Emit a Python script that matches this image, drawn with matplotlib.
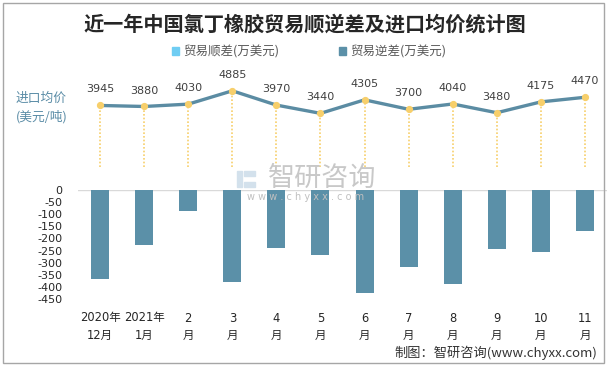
import matplotlib.pyplot as plt
from matplotlib.patches import Rectangle, Patch

plt.rcParams['font.family'] = ['DejaVu Sans', 'Noto Sans CJK SC']
cjk = ['Noto Sans CJK SC', 'DejaVu Sans']

# data
months = ['2020年\n12月', '2021年\n1月', '2\n月', '3\n月', '4\n月', '5\n月',
          '6\n月', '7\n月', '8\n月', '9\n月', '10\n月', '11\n月']
deficit = [-368, -227, -87, -380, -240, -269, -426, -318, -388, -244, -256, -169]
price = [3945, 3880, 4030, 4885, 3970, 3440, 4305, 3700, 4040, 3480, 4175, 4470]
yticks = [0, -50, -100, -150, -200, -250, -300, -350, -400, -450]

bar_color = '#5b90a8'
line_color = '#5b8ca3'
dot_color = '#f7cf6b'

fig = plt.figure(figsize=(6.12, 3.69), dpi=100)
x = range(len(months))

# bottom panel: trade balance bars
ax = fig.add_axes([78/612, 1-299/369, 529/612, 109/369])
ax.bar(x, deficit, width=0.41, color=bar_color, zorder=2)
ax.axhline(0, color='#d9d9d9', lw=1, zorder=1)
ax.set_xlim(-0.5, 11.5)
ax.set_ylim(-450, 0)
ax.set_yticks(yticks)
ax.set_yticklabels([str(v) for v in yticks], fontsize=8, color='#262626')
ax.set_xticks(list(x))
ax.set_xticklabels(months, fontsize=8.3, color='#262626', linespacing=1.45)
ax.tick_params(axis='y', length=0, pad=11)
ax.tick_params(axis='x', length=0, pad=9)
for s in ax.spines.values():
    s.set_visible(False)

# top panel: import price line
ax2 = fig.add_axes([78/612, 1-167/369, 529/612, 107/369])
ax2.vlines(x, 0, price, colors=dot_color, linestyles=(0, (1, 1.2)), lw=1.2, zorder=1)
ax2.plot(x, price, color=line_color, lw=2.4, zorder=2)
ax2.plot(x, price, 'o', color=dot_color, ms=4.2, zorder=3)
for i, v in enumerate(price):
    ax2.annotate(str(v), (i, v), xytext=(0, 11.5), textcoords='offset points',
                 ha='center', va='center', fontsize=8, color='#404040')
ax2.set_xlim(-0.5, 11.5)
ax2.set_ylim(0, 6860)
ax2.axis('off')

fig.text(16/612, 1-98/369, '进口均价', fontsize=9.2, color='#5a8ca6', ha='left',
         va='center', family=cjk)
fig.text(16/612, 1-117/369, '(美元/吨)', fontsize=9.2, color='#5a8ca6', ha='left',
         va='center', family=cjk)

# title and legend
fig.text(305/612, 1-24/369, '近一年中国氯丁橡胶贸易顺逆差及进口均价统计图',
         fontsize=14.5, fontweight='bold', color='#262626', ha='center', va='center',
         family=cjk)
handles = [Patch(color='#6fcdf3'), Patch(color=bar_color)]
fig.legend(handles, ['贸易顺差(万美元)', '贸易逆差(万美元)'], loc='center',
           bbox_to_anchor=(309/612, 1-52/369), ncol=2, frameon=False,
           prop={'family': cjk, 'size': 9},
           handlelength=0.55, handleheight=0.55, handletextpad=0.35,
           columnspacing=4.8, labelcolor='#595959')

# watermark
for rx, ry, rw, rh in [(237, 171, 5, 16), (244, 171, 11, 5), (244, 182, 11, 5)]:
    fig.patches.append(Rectangle((rx/612, 1-(ry+rh)/369), rw/612, rh/369, color='#d3e1ec',
                                 transform=fig.transFigure, zorder=0))
fig.text(322/612, 1-178/369, '智研咨询', fontsize=19.5, color='#c8c8c8',
         ha='center', va='center', zorder=0, family=cjk)
fig.text(306/612, 1-197/369, 'w w w . c h y x x . c o m', fontsize=7, color='#c0c0c0',
         ha='center', va='center', zorder=0)

# footer
fig.text(597/612, 1-353/369, '制图：智研咨询(www.chyxx.com)', fontsize=9.5,
         color='#333333', ha='right', va='center', family=cjk)

# outer frame
fig.patches.append(Rectangle((3/612, 1-363/369), 601/612, 360/369, fill=False,
                             edgecolor='#a6a6a6', lw=1, transform=fig.transFigure))

fig.savefig('out.png', dpi=100)
